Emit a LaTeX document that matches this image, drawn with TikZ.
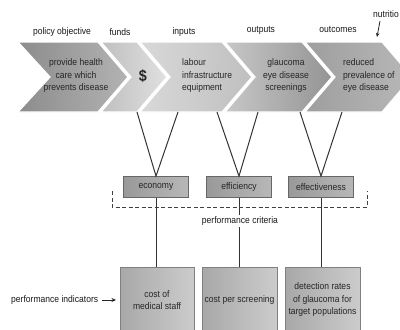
\documentclass[tikz,border=0pt]{standalone}
\usepackage{fontspec}
\setmainfont{Liberation Sans}[FakeStretch=0.9]
\usetikzlibrary{arrows.meta}
\begin{document}
\begin{tikzpicture}[x=1pt,y=-1pt,
  lbl/.style={font=\fontsize{9.5}{11}\selectfont, text=black!90, inner sep=1pt},
  ctext/.style={font=\fontsize{9.5}{12.5}\selectfont, text=black!85, align=center, inner sep=0pt},
  ltext/.style={font=\fontsize{9.5}{12.5}\selectfont, text=black!85, align=left, inner sep=0pt},
  chev/.style={draw=white, line width=1.2pt},
  crit/.style={draw=black!60, line width=0.8pt, left color=black!40, right color=black!28, minimum width=65pt, minimum height=21pt, font=\fontsize{9.5}{11}\selectfont, text=black!85},
  ind/.style={draw=black!50, line width=0.8pt, left color=black!34, right color=black!20, anchor=north west},
  conn/.style={draw=black!80, line width=1pt}
]
\clip (0,0) rectangle (400,330);
\fill[white] (0,0) rectangle (400,330);
% chevrons
\path[chev, left color=black!45, right color=black!30] (18,42) -- (98,42) -- (128,77) -- (98,112) -- (18,112) -- (50,77) -- cycle;
\path[chev, left color=black!25, right color=black!12] (101,42) -- (137,42) -- (167,77) -- (137,112) -- (101,112) -- (131,77) -- cycle;
\path[chev, left color=black!15, right color=black!25] (140,42) -- (222,42) -- (252,77) -- (222,112) -- (140,112) -- (170,77) -- cycle;
\path[chev, left color=black!22, right color=black!42] (225,42) -- (302,42) -- (332,77) -- (302,112) -- (225,112) -- (255,77) -- cycle;
\path[chev, left color=black!38, right color=black!28] (305,42) -- (382,42) -- (412,77) -- (382,112) -- (305,112) -- (335,77) -- cycle;
% chevron texts
\node[ctext] (t1) at (76,76) {provide health\\care which\\prevents disease};
\node[font=\fontsize{16}{16}\selectfont\bfseries, text=black!85] (t2) at (143,76) {\$};
\node[ltext, anchor=west] (t3) at (182,76) {labour\\infrastructure\\equipment};
\node[ctext] (t4) at (286,76) {glaucoma\\eye disease\\screenings};
\node[ltext, anchor=west] (t5) at (343,76) {reduced\\prevalence of\\eye disease};
% labels above
\node[lbl] (l1) at (62,32) {policy objective};
\node[lbl] (l2) at (120,32) {funds};
\node[lbl] (l3) at (184,32) {inputs};
\node[lbl] (l4) at (261,30) {outputs};
\node[lbl] (l5) at (338,29) {outcomes};
\node[lbl, anchor=east] (l6) at (400,14) {nutritio};
\coordinate (nt) at (377,37);
\coordinate (ns) at (380,21);
\draw[-{Stealth[length=4pt,width=3.5pt]}, black!85, line width=0.8pt] (ns) -- (nt);
% criteria boxes
\node[crit] (eco) at (156,187) {economy};
\node[crit] (eff) at (239,187) {efficiency};
\node[crit] (efv) at (321,187) {effectiveness};
% V connectors
\coordinate (v1a) at (137,112); \coordinate (v1b) at (178,112);
\coordinate (v2a) at (217,112); \coordinate (v2b) at (258,112);
\coordinate (v3a) at (300,112); \coordinate (v3b) at (342,112);
\draw[conn] (v1a) -- (eco.north) -- (v1b);
\draw[conn] (v2a) -- (eff.north) -- (v2b);
\draw[conn] (v3a) -- (efv.north) -- (v3b);
% indicator boxes
\node[ind, minimum width=74pt, minimum height=70pt] (i1) at (120,267) {};
\node[ind, minimum width=75pt, minimum height=70pt] (i2) at (202,267) {};
\node[ind, minimum width=75pt, minimum height=70pt] (i3) at (285,267) {};
\node[ctext] (it1) at (157,300) {cost of\\medical staff};
\node[ctext] (it2) at (239.5,300) {cost per screening};
\node[ctext] (it3) at (322.5,300) {detection rates\\of glaucoma for\\target populations};
% vertical connectors
\draw[conn] (eco.south) -- (eco.south |- i1.north);
\draw[conn] (eff.south) -- (eff.south |- i2.north);
\draw[conn] (efv.south) -- (efv.south |- i3.north);
% dashed bracket
\draw[draw=black!75, line width=1pt, dash pattern=on 4pt off 2.5pt] (112,191) -- (112,207) -- (367,207) -- (367,191);
\node[lbl, fill=white, inner sep=2pt] (pc) at (240,221) {performance criteria};
% performance indicators
\node[lbl, anchor=west] (pi) at (10,300) {performance indicators};
\coordinate (pie) at (116,300);
\draw[-{Stealth[length=4.5pt,width=4pt]}, black!85, line width=0.9pt] (pi.east) ++(3,0) -- (pie);
\end{tikzpicture}
\end{document}
